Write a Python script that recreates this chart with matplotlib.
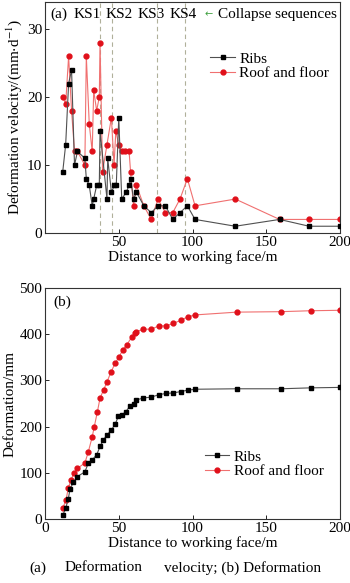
import matplotlib
matplotlib.use('Agg')
import matplotlib.pyplot as plt

plt.rcParams['font.family'] = ['Liberation Serif', 'DejaVu Serif']
plt.rcParams['mathtext.fontset'] = 'stix'

# (a) 变形速度 mm/d
ribs_v_x = [12, 14, 16, 18, 20, 22, 27, 28, 30, 32, 33, 35, 36.8, 37.3, 42, 42.5, 45, 47, 48.3,
            50, 52, 55, 57, 58, 60, 62, 67, 72, 76.6, 81.6, 86.6, 91.5, 96.5, 101.7, 129, 159, 179, 200]
ribs_v = [9, 13, 22, 24, 10, 12, 11, 8, 7, 4, 5, 7, 7, 15, 5, 11, 6, 7, 7,
          17, 5, 6, 7, 8, 5, 6, 4, 3, 4, 4, 2, 3, 4, 2, 1, 2, 1, 1]
roof_v_x = [12, 14, 16, 18, 20, 22, 27, 28, 30, 32, 33, 35, 36.8, 37.3, 39, 42, 45, 46.8, 48,
            50, 52, 54.5, 57, 58, 60, 62, 67, 72, 76.6, 81.6, 86.6, 91.5, 96.5, 101.7, 129, 159, 179, 200]
roof_v = [20, 19, 26, 18, 12, 12, 10, 26, 16, 12, 21, 18, 20, 28, 9, 13, 17, 10, 15,
          13, 12, 12, 12, 9, 4, 7, 4, 2, 5, 3, 3, 5, 8, 4, 5, 2, 2, 2]
ks_pos = [37.5, 45.5, 76, 95]
ks_labels = ['KS1', 'KS2', 'KS3', 'KS4']

# (b) 累计变形 mm
ribs_d_x = [12, 14, 15.8, 17, 19.3, 22, 27, 29.4, 32, 35, 37.3, 39.5, 42, 45, 47.5, 49.7,
            52, 54.7, 57.6, 60, 62, 66.7, 72, 77, 82, 87, 92, 96.7, 102, 130, 160, 180, 200]
ribs_d = [8, 23, 44, 65, 80, 92, 102, 121, 128, 139, 157, 171, 182, 193, 205, 222,
          225, 232, 245, 250, 258, 262, 264, 269, 272, 273, 276, 279, 281, 282, 282, 284, 285]
roof_d_x = [12, 14.2, 15.8, 17.6, 19.7, 22, 27, 29.4, 32, 33.4, 35.5, 37.3, 39.8, 42, 44.7,
            47.5, 50, 52.7, 55.4, 59, 61, 62, 66.7, 72, 77, 82, 87, 92, 96.7, 102, 130, 160, 180, 200]
roof_d = [23, 41, 67, 85, 99, 110, 121, 146, 178, 200, 232, 262, 280, 297, 318,
          337, 350, 366, 377, 395, 402, 406, 411, 411, 418, 418, 424, 430, 438, 442, 448, 449, 451, 452]

fig = plt.figure(figsize=(3.5, 5.83), dpi=100)
ax1 = fig.add_axes([0.1286, 0.6003, 0.843, 0.3963])
ax2 = fig.add_axes([0.1286, 0.1098, 0.843, 0.3960])

fs = 11
for x in ks_pos:
    ax1.axvline(x, color='#b0b09a', ls=(0, (4, 3)), lw=0.8, zorder=1)
ax1.plot(ribs_v_x, ribs_v, color='#505050', lw=0.8, marker='s', ms=3,
         mfc='black', mec='black', label='Ribs', zorder=3)
ax1.plot(roof_v_x, roof_v, color='#f07070', lw=0.8, marker='o', ms=3.5,
         mfc='#e0101a', mec='#e0101a', label='Roof and floor', zorder=2)
ax1.set_xlim(0, 200)
ax1.set_ylim(0, 34)
ax1.set_yticks([0, 10, 20, 30])
ax1.set_xticks([50, 100, 150, 200])
ax1.set_xlabel('Distance to working face/m', fontsize=fs, labelpad=1)
ax1.set_ylabel(r'Deformation velocity/(mm$\cdot$d$^{-1}$)', fontsize=fs, labelpad=2)

# 顶部标注
ty = 0.945
ax1.text(0.017, ty, '(a)', transform=ax1.transAxes, fontsize=fs, va='center', ha='left')
for i, lab in enumerate(ks_labels):
    ax1.text(0.095 + i * 0.109, ty, lab, transform=ax1.transAxes, fontsize=fs,
             va='center', ha='left')
ax1.text(0.54, ty, '\u2190', transform=ax1.transAxes, fontsize=7, color='#40a040',
         va='center', ha='left', family=['DejaVu Sans'])
ax1.text(0.585, ty, 'Collapse sequences', transform=ax1.transAxes, fontsize=fs,
         va='center', ha='left')
ax1.legend(loc='upper right', bbox_to_anchor=(1.0, 0.83), frameon=False, fontsize=fs,
           handlelength=1.6, handletextpad=0.3, labelspacing=0.05, borderpad=0.2)

ax2.plot(ribs_d_x, ribs_d, color='#505050', lw=0.8, marker='s', ms=3,
         mfc='black', mec='black', label='Ribs', zorder=3)
ax2.plot(roof_d_x, roof_d, color='#f07070', lw=0.8, marker='o', ms=3.5,
         mfc='#e0101a', mec='#e0101a', label='Roof and floor', zorder=2)
ax2.set_xlim(0, 200)
ax2.set_ylim(0, 500)
ax2.set_yticks([0, 100, 200, 300, 400, 500])
ax2.set_xticks([0, 50, 100, 150, 200])
ax2.set_xlabel('Distance to working face/m', fontsize=fs, labelpad=1)
ax2.set_ylabel('Deformation/mm', fontsize=fs, labelpad=2)
ax2.text(0.03, 0.94, '(b)', transform=ax2.transAxes, fontsize=fs, va='center', ha='left')
ax2.legend(loc='lower right', bbox_to_anchor=(0.98, 0.13), frameon=False, fontsize=fs,
           handlelength=1.6, handletextpad=0.3, labelspacing=0.05, borderpad=0.2)

for ax in (ax1, ax2):
    ax.tick_params(direction='in', length=3, width=0.6, labelsize=fs, pad=2)
    for s in ax.spines.values():
        s.set_linewidth(0.8)
        s.set_color('#333333')

fig.text(0.085, 0.026, '(a)', fontsize=fs, va='center')
fig.text(0.185, 0.026, 'Deformation', fontsize=fs, va='center')
fig.text(0.47, 0.026, 'velocity; (b) Deformation', fontsize=fs, va='center')

fig.savefig('out.png', dpi=100)
